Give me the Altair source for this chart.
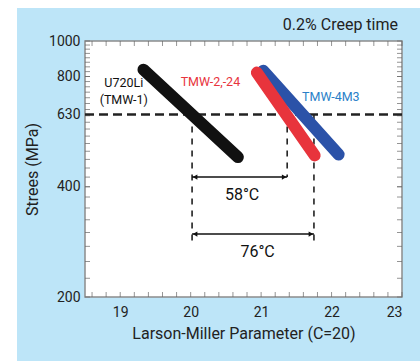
import altair as alt
import pandas as pd

FONT = "Roboto"

# ---- data ----
series = ["U720Li", "TMW-2,-24", "TMW-4M3"]
lmp_start = [19.33, 20.94, 21.03]
lmp_end = [20.67, 21.76, 22.10]
stress_start = [835, 820, 830]
stress_end = [482, 487, 490]
line_colors = ["#111111", "#e8343c", "#2b52a8"]
draw_order = [0, 2, 1]  # blue is drawn under red

ref_stress = 630
x_ticks = [19, 20, 21, 22, 23]
y_ticks = [200, 400, 630, 800, 1000]

vline_x = [20.02, 21.37, 21.75]
vline_top = [630, 630, 630]
vline_bottom = [275, 425, 275]

arrow_from = [20.02, 20.02]
arrow_to = [21.37, 21.75]
arrow_y = [425, 297]
arrow_label = ["58°C", "76°C"]
arrow_label_x = [20.73, 20.95]
arrow_label_y = [379, 265]

label_text = ["U720Li", "(TMW-1)", "TMW-2,-24", "TMW-4M3"]
label_x = [19.05, 19.05, 20.28, 21.99]
label_y = [770, 692, 773, 703]
label_color = ["#111111", "#111111", "#e8343c", "#2a7fc8"]

chart_title = "0.2% Creep time"

x_minor = [round(18.6 + 0.2 * i, 1) for i in range(23)]
y_minor = list(range(225, 1000, 25))

W, H = 317, 256
xs = alt.Scale(domain=[18.5, 23], nice=False, zero=False)
ys = alt.Scale(type="log", domain=[200, 1000], nice=False)

XA = alt.Axis(values=x_ticks, title="Larson-Miller Parameter (C=20)", grid=False, ticks=False,
              domain=False, labelFont=FONT, labelFontSize=14, labelColor="#222222", labelPadding=8,
              titleFont=FONT, titleFontSize=16, titleFontWeight="normal", titleColor="#222222",
              titlePadding=6, zindex=1)
YA = alt.Axis(values=y_ticks, format="d", title="Strees (MPa)", grid=False, ticks=False, domain=False,
              labelFont=FONT, labelFontSize=14, labelColor="#222222", labelPadding=5,
              labelFlush=False, titleFont=FONT, titleFontSize=16, titleFontWeight="normal",
              titleColor="#222222", titlePadding=8, zindex=1)


def X(f):
    return alt.X(f, scale=xs, axis=XA)


def Y(f):
    return alt.Y(f, scale=ys, axis=YA)


one = pd.DataFrame({"a": [0]})

# background panel and plot frame
bg = alt.Chart(one).mark_rect(color="#bde5f8").encode(
    x=alt.value(-68), x2=alt.value(W + 18), y=alt.value(-33), y2=alt.value(H + 64)
)
frame = alt.Chart(one).mark_rect(fill="white", stroke="#8c8c8c", strokeWidth=1.5).encode(
    x=alt.value(0), x2=alt.value(W), y=alt.value(0), y2=alt.value(H)
)
title_df = pd.DataFrame({"t": [chart_title]})
title = alt.Chart(title_df).mark_text(font=FONT, fontSize=16, align="right", baseline="middle",
                                      color="#222222").encode(
    x=alt.value(W - 4), y=alt.value(-16), text="t:N"
)

# inward ticks
xt_df = pd.DataFrame({"x": x_minor, "lo": [200] * len(x_minor), "hi": [1000] * len(x_minor)})
n_y = len(y_minor) + len(y_ticks)
yt_df = pd.DataFrame({"y": y_minor + y_ticks, "lo": [18.5] * n_y, "hi": [23.0] * n_y})
tick_color = "#666666"
xt_bottom = alt.Chart(xt_df).mark_tick(orient="vertical", size=5, thickness=1, color=tick_color,
                                       yOffset=-2.5).encode(x=X("x:Q"), y=Y("lo:Q"))
xt_top = alt.Chart(xt_df).mark_tick(orient="vertical", size=5, thickness=1, color=tick_color,
                                    yOffset=2.5).encode(x=X("x:Q"), y=Y("hi:Q"))
yt_left = alt.Chart(yt_df).mark_tick(orient="horizontal", size=5, thickness=1, color=tick_color,
                                     xOffset=2.5).encode(y=Y("y:Q"), x=X("lo:Q"))
yt_right = alt.Chart(yt_df).mark_tick(orient="horizontal", size=5, thickness=1, color=tick_color,
                                      xOffset=-2.5).encode(y=Y("y:Q"), x=X("hi:Q"))

# reference dashed line
href_df = pd.DataFrame({"y": [ref_stress]})
href = alt.Chart(href_df).mark_rule(strokeDash=[9, 5], strokeWidth=2.5, color="#222222").encode(
    y=Y("y:Q")
)

vdf = pd.DataFrame({"x": vline_x, "y1": vline_top, "y2": vline_bottom})
vlines = alt.Chart(vdf).mark_rule(strokeDash=[6, 6], strokeWidth=1.6, color="#222222").encode(
    x=X("x:Q"), y=Y("y1:Q"), y2="y2:Q"
)

adf = pd.DataFrame({"x1": arrow_from, "x2": arrow_to, "y": arrow_y})
arrows = alt.Chart(adf).mark_rule(strokeWidth=1.5, color="#111111").encode(
    x=X("x1:Q"), x2="x2:Q", y=Y("y:Q")
)
heads_l = alt.Chart(adf).mark_point(filled=True, size=28, color="#111111", opacity=1,
                                    shape="triangle-left", xOffset=3).encode(x=X("x1:Q"), y=Y("y:Q"))
heads_r = alt.Chart(adf).mark_point(filled=True, size=28, color="#111111", opacity=1,
                                    shape="triangle-right", xOffset=-3).encode(x=X("x2:Q"), y=Y("y:Q"))
adl = pd.DataFrame({"x": arrow_label_x, "y": arrow_label_y, "t": arrow_label})
arrow_text = alt.Chart(adl).mark_text(font=FONT, fontSize=16, color="#111111").encode(
    x=X("x:Q"), y=Y("y:Q"), text="t:N"
)

# the three stress lines
line_layers = []
for i in draw_order:
    df = pd.DataFrame({"lmp": [lmp_start[i], lmp_end[i]], "stress": [stress_start[i], stress_end[i]]})
    line_layers.append(
        alt.Chart(df).mark_line(strokeWidth=12, strokeCap="round", color=line_colors[i]).encode(
            x=X("lmp:Q"), y=Y("stress:Q")
        )
    )

ldf = pd.DataFrame({"x": label_x, "y": label_y, "t": label_text, "c": label_color})
labels = alt.Chart(ldf).mark_text(font=FONT, fontSize=12.5).encode(
    x=X("x:Q"), y=Y("y:Q"), text="t:N", color=alt.Color("c:N", scale=None)
)

chart = alt.layer(
    bg, frame, title, xt_bottom, xt_top, yt_left, yt_right, href, vlines, arrows, heads_l, heads_r,
    arrow_text, *line_layers, labels
).properties(
    width=W, height=H,
    autosize=alt.AutoSizeParams(type="none"),
    padding={"left": 85, "top": 41, "right": 18, "bottom": 64},
).configure(background="white").configure_view(stroke=None)

chart.save("out.html", embed_options={"renderer": "svg", "actions": False})
